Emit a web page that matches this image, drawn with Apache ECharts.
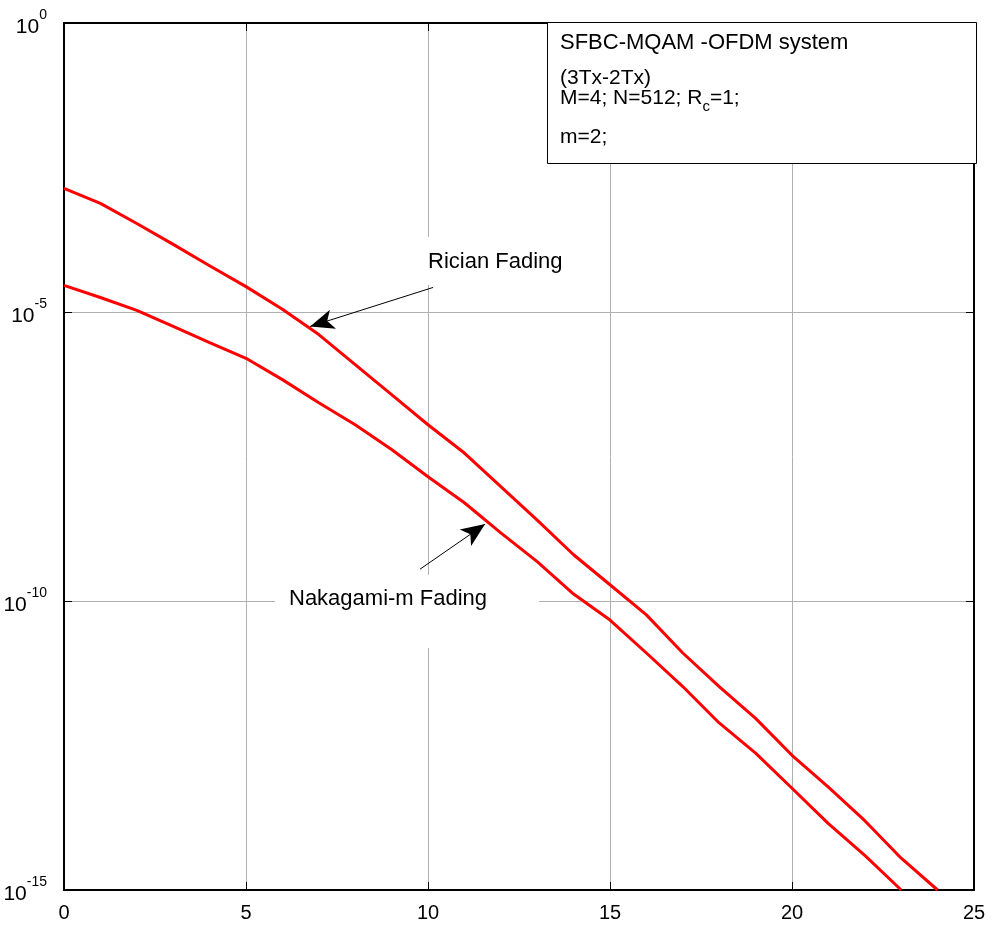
<!DOCTYPE html>
<html>
<head>
<meta charset="utf-8">
<script src="https://cdn.jsdelivr.net/npm/echarts@6/dist/echarts.min.js"></script>
<style>
  html, body { margin: 0; padding: 0; background: #fff; }
  #chart { width: 995px; height: 928px; }
</style>
</head>
<body>
<div id="chart"></div>
<script>
// SNR axis (dB)
const snr = [0, 1, 2, 3, 4, 5, 6, 7, 8, 9, 10, 11, 12, 13, 14, 15, 16, 17, 18, 19, 20, 21, 22, 23, 24];

// BER, Rician fading channel
const berRician = [1.38e-3, 7.59e-4, 3.39e-4, 1.48e-4, 6.31e-5, 2.75e-5, 1.12e-5, 4.07e-6,
  1.23e-6, 3.72e-7, 1.12e-7, 3.63e-8, 9.55e-9, 2.51e-9, 6.31e-10, 1.91e-10, 5.75e-11,
  1.26e-11, 3.31e-12, 9.33e-13, 2.14e-13, 6.03e-14, 1.58e-14, 3.55e-15, 1.0e-15];

// BER, Nakagami-m fading channel (m = 2)
const berNakagami = [2.88e-5, 1.78e-5, 1.07e-5, 5.62e-6, 2.95e-6, 1.58e-6, 6.76e-7, 2.69e-7,
  1.12e-7, 4.17e-8, 1.41e-8, 5.01e-9, 1.51e-9, 4.79e-10, 1.32e-10, 4.68e-11, 1.26e-11,
  3.31e-12, 7.76e-13, 2.34e-13, 5.75e-14, 1.41e-14, 3.98e-15, 1.0e-15];

// Axis ticks
const xTicks = [0, 5, 10, 15, 20, 25];
const yTickExponents = [0, -5, -10, -15];

// Annotation arrows: [tail, tip] in data coordinates
const ricianArrow = [[10.14, 2.66e-5], [6.76, 5.62e-6]];
const nakagamiArrow = [[9.78, 3.55e-10], [11.57, 2.14e-9]];

const FONT = 'Liberation Sans, Arial, sans-serif';

const chart = echarts.init(document.getElementById('chart'), null, { renderer: 'canvas' });

function pairs(xs, ys) {
  return ys.map((v, i) => [xs[i], v]);
}

function expLabel(v) {
  const e = Math.round(Math.log10(v));
  return '{b|10}{s|' + e + '}';
}

const tickStyle = { show: true, inside: true, length: 8, lineStyle: { color: '#000', width: 1 } };
const axisLine = { show: true, onZero: false, lineStyle: { color: '#000', width: 2 } };
const gridLine = { show: true, lineStyle: { color: '#b0b0b0', width: 1, type: 'solid' } };

const option = {
  animation: false,
  backgroundColor: '#ffffff',
  grid: { left: 64, right: 21, top: 23, bottom: 38, containLabel: false },
  xAxis: [
    {
      type: 'value', min: xTicks[0], max: xTicks[xTicks.length - 1], interval: 5,
      position: 'bottom', axisLine: axisLine, axisTick: tickStyle, splitLine: gridLine,
      axisLabel: { color: '#000', fontSize: 20, fontFamily: FONT, margin: 13 }
    },
    {
      type: 'value', min: xTicks[0], max: xTicks[xTicks.length - 1], interval: 5,
      position: 'top', axisLine: axisLine, axisTick: tickStyle, splitLine: { show: false },
      axisLabel: { show: false }
    }
  ],
  yAxis: [
    {
      type: 'log', logBase: 10, min: Math.pow(10, yTickExponents[3]), max: Math.pow(10, yTickExponents[0]),
      interval: 5, splitNumber: 3,
      position: 'left', axisLine: axisLine, axisTick: tickStyle, splitLine: gridLine,
      minorTick: { show: false }, minorSplitLine: { show: false },
      axisLabel: {
        margin: 17, formatter: expLabel,
        rich: {
          b: { fontSize: 21, fontFamily: FONT, color: '#000', lineHeight: 30, verticalAlign: 'bottom' },
          s: { fontSize: 14, fontFamily: FONT, color: '#000', lineHeight: 30, verticalAlign: 'top' }
        }
      }
    },
    {
      type: 'log', logBase: 10, min: Math.pow(10, yTickExponents[3]), max: Math.pow(10, yTickExponents[0]),
      interval: 5, splitNumber: 3,
      position: 'right', axisLine: axisLine, axisTick: tickStyle, splitLine: { show: false },
      minorTick: { show: false }, axisLabel: { show: false }
    }
  ],
  series: [
    {
      name: 'Rician Fading', type: 'line', data: pairs(snr, berRician),
      showSymbol: false, symbol: 'none', smooth: false, clip: true,
      lineStyle: { color: '#ff0000', width: 3 },
      z: 5,
      markLine: {
        silent: true, animation: false,
        symbol: ['none', 'arrow'], symbolSize: [15, 24],
        lineStyle: { color: '#000', width: 1, type: 'solid' },
        label: { show: false },
        data: [[{ coord: ricianArrow[0] }, { coord: ricianArrow[1] }]]
      }
    },
    {
      name: 'Nakagami-m Fading', type: 'line', data: pairs(snr, berNakagami),
      showSymbol: false, symbol: 'none', smooth: false, clip: true,
      lineStyle: { color: '#ff0000', width: 3 },
      z: 5,
      markLine: {
        silent: true, animation: false,
        symbol: ['none', 'arrow'], symbolSize: [15, 24],
        lineStyle: { color: '#000', width: 1, type: 'solid' },
        label: { show: false },
        data: [[{ coord: nakagamiArrow[0] }, { coord: nakagamiArrow[1] }]]
      }
    }
  ],
  graphic: [
    // Parameter box (top right)
    {
      type: 'rect', left: 547, top: 22, z: 10,
      shape: { width: 429, height: 141 },
      style: { fill: '#fff', stroke: '#000', lineWidth: 1 }
    },
    {
      type: 'text', left: 560, top: 32, z: 11,
      style: { text: 'SFBC-MQAM -OFDM system', font: '22px ' + FONT, fill: '#000' }
    },
    {
      type: 'text', left: 560, top: 68, z: 11,
      style: { text: '(3Tx-2Tx)', font: '21px ' + FONT, fill: '#000' }
    },
    {
      type: 'text', left: 560, top: 88, z: 11,
      style: {
        text: '{t|M=4; N=512; R}{sub|c}{t|=1;}', fill: '#000',
        rich: {
          t: { fontSize: 21, fontFamily: FONT, color: '#000', lineHeight: 26, verticalAlign: 'top' },
          sub: { fontSize: 15, fontFamily: FONT, color: '#000', lineHeight: 26, verticalAlign: 'bottom' }
        }
      }
    },
    {
      type: 'text', left: 560, top: 127, z: 11,
      style: { text: 'm=2;', font: '21px ' + FONT, fill: '#000' }
    },
    // Rician label
    {
      type: 'rect', left: 414, top: 237, z: 10,
      shape: { width: 170, height: 48 },
      style: { fill: '#fff', stroke: null }
    },
    {
      type: 'text', left: 428, top: 251, z: 11,
      style: { text: 'Rician Fading', font: '22px ' + FONT, fill: '#000' }
    },
    // Nakagami label
    {
      type: 'rect', left: 275, top: 575, z: 10,
      shape: { width: 264, height: 73 },
      style: { fill: '#fff', stroke: null }
    },
    {
      type: 'text', left: 289, top: 588, z: 11,
      style: { text: 'Nakagami-m Fading', font: '22px ' + FONT, fill: '#000' }
    }
  ]
};

chart.setOption(option);
</script>
</body>
</html>
